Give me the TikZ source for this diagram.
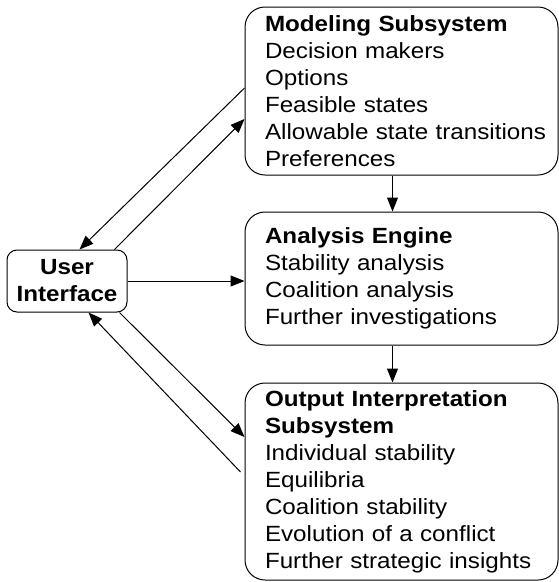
\documentclass[tikz,border=0pt]{standalone}
\usepackage{fontspec}
\setmainfont{Liberation Sans}[FakeStretch=1.1]
\usetikzlibrary{arrows.meta}

\begin{document}
\begin{tikzpicture}[x=1pt,y=-1pt,>={Triangle[length=14pt,width=11pt]},
  sysbox/.style={draw,line width=1pt,rounded corners=20pt,text width=296pt,
    inner xsep=8.5pt,align=left,execute at begin node={\leftskip=11.5pt},
    font=\fontsize{22}{27}\selectfont},
  uibox/.style={draw,line width=1pt,rounded corners=10pt,minimum width=120pt,
    minimum height=62pt,inner sep=0pt,align=center,
    font=\fontsize{22}{27}\selectfont\bfseries},
  link/.style={->,line width=1pt}]
\useasboundingbox (0,0) rectangle (559,582);
\node[sysbox,minimum height=168pt] (mod) at (401.5,91)
  {\textbf{Modeling Subsystem}\\Decision makers\\Options\\Feasible states\\
   Allowable state transitions\\Preferences};
\node[sysbox,minimum height=133pt] (ana) at (401.5,278.5)
  {\textbf{Analysis Engine}\\Stability analysis\\Coalition analysis\\
   Further investigations};
\node[sysbox,minimum height=197pt] (out) at (401.5,481.5)
  {\textbf{Output Interpretation}\\\textbf{Subsystem}\\Individual stability\\
   Equilibria\\Coalition stability\\Evolution of a conflict\\
   Further strategic insights};
\node[uibox] (ui) at (67,281) {User\\Interface};
% links between the parts
\draw[link] ([yshift=3pt]mod.west) -- ([xshift=73pt]ui.north west);
\draw[link] ([xshift=108pt]ui.north west) -- ([yshift=-28pt]mod.west);
\draw[link] (ui.east) -- (ui.east -| ana.west);
\draw[link] ([xshift=113pt]ui.south west) -- ([yshift=44.5pt]out.west);
\draw[link] ([xshift=-4pt,yshift=9.5pt]out.west) -- ([xshift=82pt]ui.south west);
\draw[link] ([xshift=-9pt]mod.south) -- ([xshift=-9pt]ana.north);
\draw[link] ([xshift=-9pt]ana.south) -- ([xshift=-9pt]out.north);
\end{tikzpicture}
\end{document}
